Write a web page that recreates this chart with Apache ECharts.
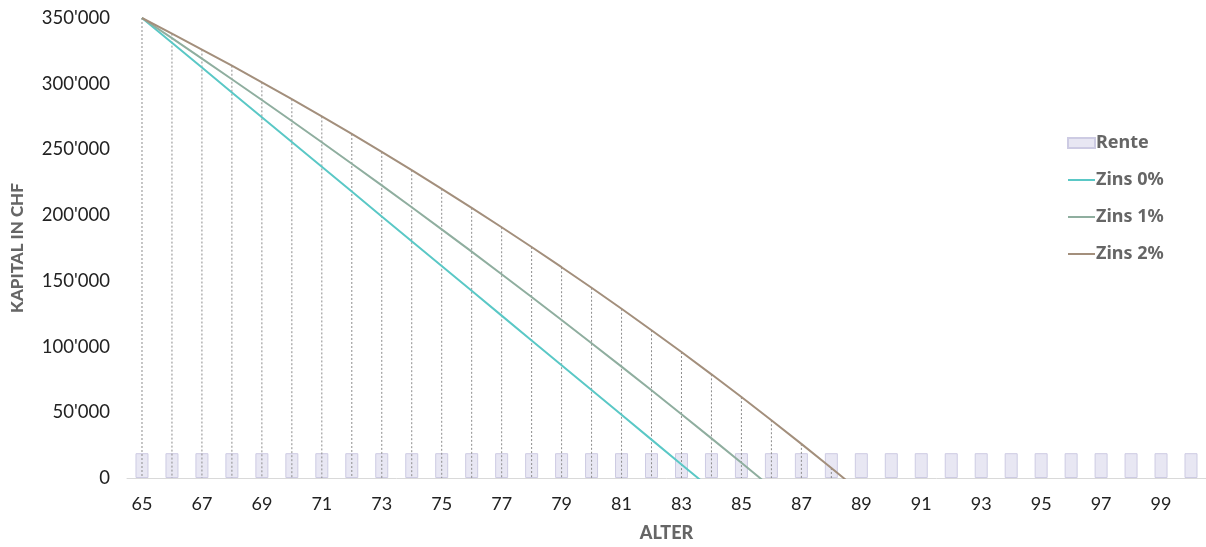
<!DOCTYPE html>
<html>
<head>
<meta charset="utf-8">
<script src="https://cdn.jsdelivr.net/npm/echarts@6/dist/echarts.min.js"></script>
<style>
html,body{margin:0;padding:0;background:#fff;}
#chart{width:1206px;height:547px;}
</style>
</head>
<body>
<div id="chart"></div>
<script>
const ages = [65,66,67,68,69,70,71,72,73,74,75,76,77,78,79,80,81,82,83,84,85,86,87,88,89,90,91,92,93,94,95,96,97,98,99,100];
const rente = [18870,18870,18870,18870,18870,18870,18870,18870,18870,18870,18870,18870,18870,18870,18870,18870,18870,18870,18870,18870,18870,18870,18870,18870,18870,18870,18870,18870,18870,18870,18870,18870,18870,18870,18870,18870];
const zins0 = [350000,331130,312260,293390,274520,255650,236780,217910,199040,180170,161300,142430,123560,104690,85820,66950,48080,29210,10340,-8530,null,null,null,null,null,null,null,null,null,null,null,null,null,null,null,null];
const zins1 = [350000,334630,319106,303427,287592,271598,255444,239128,222649,206006,189196,172218,155070,137751,120258,102591,84747,66724,48521,30137,11568,-7186,null,null,null,null,null,null,null,null,null,null,null,null,null,null];
const zins2 = [350000,338130,326023,313673,301077,288228,275123,261755,248120,234213,220027,205557,190798,175744,160389,144727,128752,112457,95836,78883,61590,43952,25961,7610,-11108,null,null,null,null,null,null,null];
const yTicks = [0,50000,100000,150000,200000,250000,300000,350000];

const dropData = ages.map((a,i)=>{
  const vals=[zins0[i],zins1[i],zins2[i]].filter(v=>v!==null&&v>0);
  return [i, vals.length?Math.max(...vals):0];
});

const chart = echarts.init(document.getElementById('chart'));
const fmt = v => String(v).replace(/\B(?=(\d{3})+(?!\d))/g, "'");
const noSym = {opacity:0};
chart.setOption({
  animation:false,
  textStyle:{fontFamily:'Lato'},
  grid:{left:127,right:-1,top:18,bottom:65,containLabel:false},
  legend:{
    orient:'vertical',left:1062,top:129,itemGap:19,itemWidth:27,itemHeight:10,
    textStyle:{fontFamily:'Noto Sans',fontWeight:'bold',fontSize:18,color:'#666',padding:[0,0,0,-4]},
    data:[{name:'Rente',icon:'rect'},{name:'Zins 0%',itemStyle:noSym},{name:'Zins 1%',itemStyle:noSym},{name:'Zins 2%',itemStyle:noSym}]
  },
  xAxis:{
    type:'category',data:ages.map(String),boundaryGap:true,
    name:'ALTER',nameLocation:'middle',nameGap:46,
    nameTextStyle:{fontFamily:'Lato',fontWeight:900,fontSize:18,color:'#666'},
    axisLine:{lineStyle:{color:'#d9d9d9',width:1}},
    axisTick:{show:false},
    axisLabel:{interval:1,fontSize:18,color:'#222',margin:17,fontFamily:'Lato'}
  },
  yAxis:{
    type:'value',min:yTicks[0],max:yTicks[yTicks.length-1],interval:50000,
    name:'KAPITAL IN CHF',nameLocation:'middle',nameGap:101,
    nameTextStyle:{fontFamily:'Lato',fontWeight:900,fontSize:17,color:'#666'},
    axisLine:{show:false},axisTick:{show:false},splitLine:{show:false},
    axisLabel:{fontSize:18.5,color:'#222',margin:17,fontFamily:'Lato',formatter:fmt}
  },
  series:[
    {name:'Rente',type:'bar',data:rente,barWidth:13,z:1,
      itemStyle:{color:'#e8e7f3',borderColor:'#cdcbe3',borderWidth:1}},
    {name:'drop',type:'custom',data:dropData,z:2,silent:true,
      renderItem:(params,api)=>{
        const v=api.value(1); if(!(v>0)) return null;
        const top=api.coord([api.value(0),v]);
        const bot=api.coord([api.value(0),0]);
        return {type:'line',shape:{x1:top[0],y1:top[1],x2:bot[0],y2:bot[1]},
          style:{stroke:'#8c8c8c',lineWidth:1,lineDash:[2,2]}};
      }},
    {name:'Zins 0%',type:'line',data:zins0,symbol:'none',z:3,clip:true,
      lineStyle:{color:'#5ac8c6',width:2},itemStyle:{color:'#5ac8c6'}},
    {name:'Zins 1%',type:'line',data:zins1,symbol:'none',z:3,clip:true,
      lineStyle:{color:'#8fae9f',width:2},itemStyle:{color:'#8fae9f'}},
    {name:'Zins 2%',type:'line',data:zins2,symbol:'none',z:3,clip:true,
      lineStyle:{color:'#a38f7c',width:2},itemStyle:{color:'#a38f7c'}}
  ]
});
</script>
</body>
</html>
